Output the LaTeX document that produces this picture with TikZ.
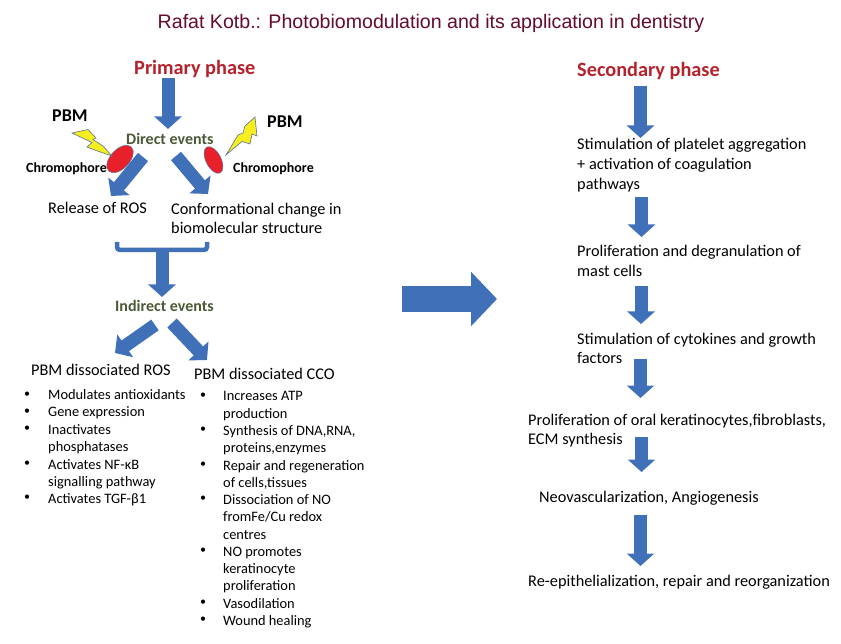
\documentclass[tikz,border=0pt]{standalone}
\usepackage{fontspec}
\setmainfont{Carlito}
\newfontfamily\titlefont{Liberation Sans}
\usetikzlibrary{arrows.meta, shapes.geometric}

\definecolor{arrowblue}{HTML}{4070B8}
\definecolor{phasered}{HTML}{B5222C}
\definecolor{eventgreen}{HTML}{4A5A35}
\definecolor{titlered}{HTML}{650A30}
\definecolor{boltyellow}{HTML}{F6EE1E}
\definecolor{boltedge}{HTML}{5A7096}
\definecolor{spotred}{HTML}{E8202A}

\tikzset{
	blockarrow/.style={draw=arrowblue, line width=13pt, -{Triangle[length=12.5pt,width=27pt]}},
	txt/.style={anchor=base west, inner sep=0pt, yshift=-1pt, align=left, font=\fontsize{16.3}{19.8}\selectfont},
	item/.style={anchor=base west, inner sep=0pt, yshift=-1.5pt, align=left, font=\fontsize{14.4}{17.3}\selectfont},
	dotmark/.style={anchor=center, inner sep=0pt, yshift=-1pt, font=\fontsize{12}{14}\selectfont},
	phase/.style={anchor=base west, inner sep=0pt, yshift=-1pt, text=phasered, font=\fontsize{20.3}{23}\selectfont\bfseries},
	event/.style={anchor=base west, inner sep=0pt, yshift=-1pt, text=eventgreen, font=\fontsize{16}{19}\selectfont\bfseries},
	pbm/.style={anchor=base west, inner sep=0pt, yshift=-1pt, font=\fontsize{18}{21}\selectfont\bfseries},
	chromo/.style={anchor=base west, inner sep=0pt, yshift=-1pt, font=\fontsize{14}{17}\selectfont\bfseries},
	spot/.style={draw=boltedge, line width=0.5pt, fill=spotred, ellipse, inner sep=0pt},
	bolt/.style={draw=boltedge, line width=0.6pt, fill=boltyellow},
}

\begin{document}
\begin{tikzpicture}[x=1pt, y=-1pt]
	\useasboundingbox (0,0) rectangle (841,644);

	\node [anchor=base, inner sep=0pt, text=titlered, font=\fontsize{19.6}{23}\selectfont\titlefont] (title) at (431,29) {Rafat Kotb.: Photobiomodulation and its application in dentistry};

	% left column
	\node [phase] (primary) at (134,74) {Primary phase};
	\node [event] (direct) at (126,144) {Direct events};
	\node [pbm] (pbmL) at (52,121) {PBM};
	\node [pbm] (pbmR) at (267,127) {PBM};
	\node [chromo] (chromoL) at (26,172) {Chromophore};
	\node [chromo] (chromoR) at (233,172) {Chromophore};
	\node [txt] (release) at (48,213) {Release of ROS};
	\node [txt] (change) at (171,233) {Conformational change in\\biomolecular structure};
	\node [event] (indirect) at (115,311) {Indirect events};
	\node [txt] (dissROS) at (31,375) {PBM dissociated ROS};
	\node [txt] (dissCCO) at (194,378) {PBM dissociated CCO};

	\node [spot, minimum width=33pt, minimum height=19pt, rotate=47] (spotL) at (120,159) {};
	\node [spot, minimum width=29pt, minimum height=15pt, rotate=-63] (spotR) at (213.5,160) {};
	\draw [bolt] (72,133) -- (88,129.5) -- (96,138) -- (93,139.5) -- (103,146) -- (112,156) -- (96,150.5) -- (87,147) -- (92,142.5) -- cycle;
	\draw [bolt] (226,155) -- (238,135) -- (243,133) -- (245,126) -- (255,117) -- (257,136) -- (252,134) -- (250,144) -- (242,141.5) -- (236,146.5) -- cycle;

	\coordinate (primaryOut) at (168,78);
	\coordinate (directIn) at (168,129);
	\coordinate (directOutL) at (143,157);
	\coordinate (releaseIn) at (111,196);
	\coordinate (directOutR) at (176,156);
	\coordinate (changeIn) at (208,194);
	\coordinate (braceL) at (117,242);
	\coordinate (braceR) at (207,242);
	\coordinate (braceOut) at (162,250);
	\coordinate (indirectIn) at (162,297);
	\coordinate (indirectOutL) at (155,325);
	\coordinate (rosIn) at (115,353);
	\coordinate (indirectOutR) at (172,323);
	\coordinate (ccoIn) at (207,360);

	\draw [blockarrow] (primaryOut) -- (directIn);
	\draw [blockarrow] (directOutL) -- (releaseIn);
	\draw [blockarrow] (directOutR) -- (changeIn);
	\draw [draw=arrowblue, line width=4.5pt, rounded corners=3pt] (braceL) |- (braceOut) -| (braceR);
	\draw [blockarrow] (braceOut) -- (indirectIn);
	\draw [blockarrow] (indirectOutL) -- (rosIn);
	\draw [blockarrow] (indirectOutR) -- (ccoIn);

	% ROS list
	\node [dotmark] (dotA1) at (27,394) {•};
	\node [item] (itemA1) at (48,398) {Modulates antioxidants};
	\node [dotmark] (dotA2) at (27,411) {•};
	\node [item] (itemA2) at (48,415.5) {Gene expression};
	\node [dotmark] (dotA3) at (27,428) {•};
	\node [item] (itemA3) at (48,450.3) {Inactivates\\phosphatases};
	\node [dotmark] (dotA4) at (27,463) {•};
	\node [item] (itemA4) at (48,484.8) {Activates NF-κB\\signalling pathway};
	\node [dotmark] (dotA5) at (27,497) {•};
	\node [item] (itemA5) at (48,502) {Activates TGF-β1};

	% CCO list
	\node [dotmark] (dotB1) at (203,395) {•};
	\node [item] (itemB1) at (223,416.5) {Increases ATP\\production};
	\node [dotmark] (dotB2) at (203,429) {•};
	\node [item] (itemB2) at (223,451.2) {Synthesis of DNA,RNA,\\proteins,enzymes};
	\node [dotmark] (dotB3) at (203,464) {•};
	\node [item] (itemB3) at (223,485.8) {Repair and regeneration\\of cells,tissues};
	\node [dotmark] (dotB4) at (203,498) {•};
	\node [item] (itemB4) at (223,537.6) {Dissociation of NO\\fromFe/Cu redox\\centres};
	\node [dotmark] (dotB5) at (203,550) {•};
	\node [item] (itemB5) at (223,589.1) {NO promotes\\keratinocyte\\proliferation};
	\node [dotmark] (dotB6) at (203,602) {•};
	\node [item] (itemB6) at (223,606.5) {Vasodilation};
	\node [dotmark] (dotB7) at (203,619) {•};
	\node [item] (itemB7) at (223,624) {Wound healing};

	% middle arrow
	\coordinate (midFrom) at (402,299);
	\coordinate (midTo) at (497,299);
	\draw [draw=arrowblue, line width=26pt, -{Triangle[length=26pt,width=53pt]}] (midFrom) -- (midTo);

	% right column
	\node [phase] (secondary) at (577,76) {Secondary phase};
	\node [txt] (platelet) at (577,188.6) {Stimulation of platelet aggregation\\+ activation of coagulation\\pathways};
	\node [txt] (mast) at (577,275.8) {Proliferation and degranulation of\\mast cells};
	\node [txt] (cytokine) at (577,362.8) {Stimulation of cytokines and growth\\factors};
	\node [txt] (kerat) at (528,443.8) {Proliferation of oral keratinocytes,fibroblasts,\\ECM synthesis};
	\node [txt] (neovasc) at (539,501) {Neovascularization, Angiogenesis};
	\node [txt] (reepi) at (528,585) {Re-epithelialization, repair and reorganization};

	\coordinate (secondaryOut) at (640.5,86);
	\coordinate (plateletIn) at (640.5,138);
	\coordinate (plateletOut) at (641.5,197);
	\coordinate (mastIn) at (641.5,237);
	\coordinate (mastOut) at (641,286);
	\coordinate (cytokineIn) at (641,324);
	\coordinate (cytokineOut) at (640.5,359);
	\coordinate (keratIn) at (640.5,398);
	\coordinate (keratOut) at (641.5,437);
	\coordinate (neovascIn) at (641.5,472);
	\coordinate (neovascOut) at (640.5,515);
	\coordinate (reepiIn) at (640.5,566);

	\draw [blockarrow] (secondaryOut) -- (plateletIn);
	\draw [blockarrow] (plateletOut) -- (mastIn);
	\draw [blockarrow] (mastOut) -- (cytokineIn);
	\draw [blockarrow] (cytokineOut) -- (keratIn);
	\draw [blockarrow] (keratOut) -- (neovascIn);
	\draw [blockarrow] (neovascOut) -- (reepiIn);
\end{tikzpicture}
\end{document}
